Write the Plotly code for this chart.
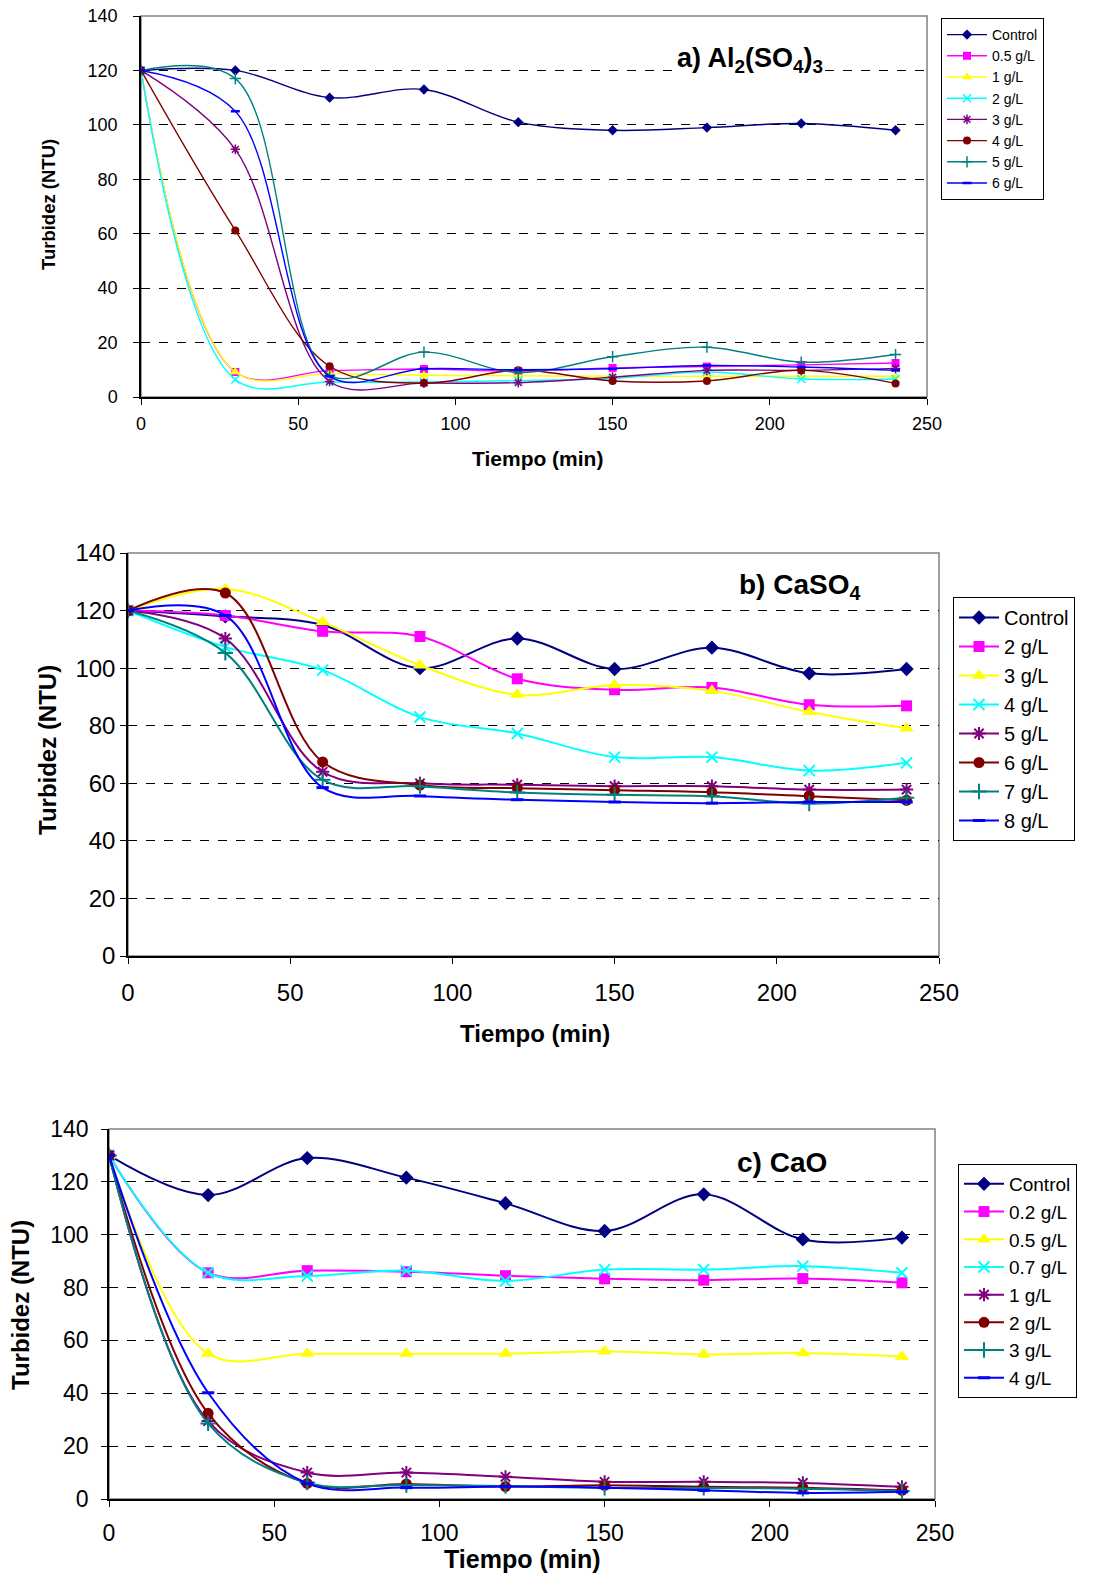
import plotly.graph_objects as go

# ---------------- data ----------------
time_min = [0, 30, 60, 90, 120, 150, 180, 210, 240]

a_names = ["Control", "0.5 g/L", "1 g/L", "2 g/L", "3 g/L", "4 g/L", "5 g/L", "6 g/L"]
a_control = [120, 120, 110, 113, 101, 98, 99, 100.5, 98]
a_05 = [120, 9.2, 9.7, 10.3, 9.5, 10.7, 11.2, 11.8, 12.5]
a_1 = [120, 9.2, 8.6, 8.0, 7.8, 7.6, 7.6, 7.6, 7.6]
a_2 = [120, 6.4, 5.5, 5.5, 6.0, 6.8, 9.2, 6.6, 6.6]
a_3 = [120, 91, 5.7, 5.1, 5.3, 7.3, 9.8, 9.8, 10.5]
a_4 = [120, 61.2, 11.3, 5.1, 9.8, 5.9, 5.9, 9.8, 5.0]
a_5 = [120, 117, 8.0, 16.5, 9.0, 14.8, 18.3, 12.8, 15.6]
a_6 = [120, 105, 7.6, 10.4, 10.0, 10.4, 11.6, 11.0, 9.8]

b_names = ["Control", "2 g/L", "3 g/L", "4 g/L", "5 g/L", "6 g/L", "7 g/L", "8 g/L"]
b_control = [120, 118, 115, 100, 110.3, 99.7, 107.1, 98.2, 99.7]
b_2 = [120, 118.3, 112.8, 111, 96.3, 92.5, 93.3, 87.3, 86.9]
b_3 = [120, 127.5, 116, 101, 90.8, 94.1, 92.1, 84.8, 79.1]
b_4 = [120, 107.4, 99.3, 83, 77.3, 69.1, 69.1, 64.4, 67.1]
b_5 = [120, 110.3, 64, 60, 59.5, 59, 59, 57.8, 57.8]
b_6 = [120, 126.1, 67.4, 59.4, 58.3, 57.6, 56.9, 55.5, 54.1]
b_7 = [120, 105.3, 61.2, 59, 56.8, 56, 55.5, 53, 55]
b_8 = [120, 118.3, 58.5, 55.6, 54.3, 53.5, 53.1, 53.5, 53.5]

c_names = ["Control", "0.2 g/L", "0.5 g/L", "0.7 g/L", "1 g/L", "2 g/L", "3 g/L", "4 g/L"]
c_control = [130, 115, 129, 121.6, 111.9, 101.4, 115.3, 98.2, 98.9]
c_02 = [130, 85.6, 86.4, 86, 84.5, 83.3, 82.8, 83.4, 81.8]
c_05 = [130, 55, 55, 55, 55, 55.9, 54.7, 55.2, 53.9]
c_07 = [130, 85.6, 84.4, 86.4, 82.5, 86.8, 86.8, 88.1, 85.6]
c_1 = [130, 29.5, 10, 10, 8.4, 6.5, 6.5, 6.1, 4.6]
c_2 = [130, 32.4, 5.9, 5.7, 4.7, 5.2, 4.6, 4.3, 3.3]
c_3 = [130, 28.6, 6.2, 5.3, 4.9, 4.2, 4.2, 3.9, 3.0]
c_4 = [130, 40.2, 5.9, 4.3, 4.7, 4.3, 3.3, 2.3, 2.7]

x_ticks = [0, 50, 100, 150, 200, 250]
y_ticks = [0, 20, 40, 60, 80, 100, 120, 140]

# ---------------- styles ----------------
colors = ["#000080", "#FF00FF", "#FFFF00", "#00FFFF", "#800080", "#800000", "#008080", "#0000FF"]
symbols = ["diamond", "square", "triangle-up", "x-thin-open", "asterisk-open",
           "circle", "cross-thin-open", "line-ew-open"]

W, H = 1106, 1579
FONT = "Liberation Sans, Arial, sans-serif"

# pixel boxes of plot areas: left, right, top, bottom
boxes = {
    "a": (141, 927, 16, 397),
    "b": (128, 939, 553, 956),
    "c": (109, 935, 1129, 1499),
}

fig = go.Figure()

panels = [
    ("a", a_names, [a_control, a_05, a_1, a_2, a_3, a_4, a_5, a_6], "", 8, 1.4, "legend"),
    ("b", b_names, [b_control, b_2, b_3, b_4, b_5, b_6, b_7, b_8], "2", 11, 2.0, "legend2"),
    ("c", c_names, [c_control, c_02, c_05, c_07, c_1, c_2, c_3, c_4], "3", 11, 2.0, "legend3"),
]

for key, names, series, ax, msize, lw, leg in panels:
    for i, (nm, vals) in enumerate(zip(names, series)):
        sym = symbols[i]
        open_sym = sym.endswith("-open")
        ms = msize
        mline = dict(width=0)
        if open_sym:
            mline = dict(width=2 if key != "a" else 1.5, color=colors[i])
        if sym == "line-ew-open":
            mline = dict(width=3 if key != "a" else 2.5, color=colors[i])
            ms = msize * 0.8
        if sym == "triangle-up":
            ms = msize * 1.15
        fig.add_trace(go.Scatter(
            x=time_min, y=vals, name=nm, mode="lines+markers",
            line=dict(color=colors[i], width=lw, shape="spline", smoothing=1.0),
            marker=dict(symbol=sym, size=ms, color=colors[i], line=mline),
            xaxis="x" + ax, yaxis="y" + ax, legend=leg,
        ))

tick_font = {"a": 18, "b": 24, "c": 23}
standoff_y = {"a": 12, "b": 0, "c": 8}
standoff_x = {"a": 4, "b": 8, "c": 7}
for key, names, series, ax, msize, lw, leg in panels:
    l, r, t, b = boxes[key]
    xd = [l / W, r / W]
    yd = [1 - b / H, 1 - t / H]
    common = dict(showline=True, linecolor="black", linewidth=1.5, ticks="outside",
                  ticklen=6, tickcolor="black", tickwidth=1, zeroline=False, automargin=False,
                  tickfont=dict(family=FONT, size=tick_font[key], color="black"))
    fig.update_layout(**{
        "xaxis" + ax: dict(domain=xd, range=[0, 250], tickvals=x_ticks, showgrid=False,
                           anchor="y" + ax, ticklabelstandoff=standoff_x[key], **common),
        "yaxis" + ax: dict(domain=yd, range=[0, 140], tickvals=y_ticks, showgrid=True,
                           gridcolor="black", griddash="dash", gridwidth=1,
                           anchor="x" + ax, ticklabelstandoff=standoff_y[key], **common),
    })
    # grey plot-area border (top and right)
    fig.add_shape(type="rect", xref="paper", yref="paper", x0=xd[0], x1=xd[1], y0=yd[0], y1=yd[1],
                  line=dict(color="#808080", width=1.5), layer="below")

# legends
def leg(xpx, ypx, size):
    return dict(x=xpx / W, y=1 - ypx / H, xanchor="left", yanchor="top",
                bgcolor="white", bordercolor="black", borderwidth=1,
                font=dict(family=FONT, size=size, color="black"),
                itemwidth=40, tracegroupgap=0, itemclick=False)

fig.update_layout(
    legend=leg(941, 18, 14),
    legend2=leg(953, 597, 20),
    legend3=leg(958, 1164, 19),
)

# titles and axis titles
ann = [
    dict(x=750, y=60, text="<b>a) Al<sub>2</sub>(SO<sub>4</sub>)<sub>3</sub></b>", size=27, bg="white"),
    dict(x=799, y=586, text="<b>b) CaSO<sub>4</sub></b>", size=28, bg="rgba(0,0,0,0)"),
    dict(x=782, y=1162, text="<b>c) CaO</b>", size=28, bg="white"),
    dict(x=537, y=458, text="<b>Tiempo (min)</b>", size=21, bg="rgba(0,0,0,0)"),
    dict(x=535, y=1033, text="<b>Tiempo (min)</b>", size=24, bg="rgba(0,0,0,0)"),
    dict(x=522, y=1559, text="<b>Tiempo (min)</b>", size=25, bg="rgba(0,0,0,0)"),
]
for a in ann:
    fig.add_annotation(x=a["x"] / W, y=1 - a["y"] / H, xref="paper", yref="paper",
                       text=a["text"], showarrow=False, xanchor="center", yanchor="middle",
                       bgcolor=a["bg"], font=dict(family=FONT, size=a["size"], color="black"))

yt = [(48, 205, 18.5), (47, 750, 24), (20, 1305, 24)]
for xp, yp, sz in yt:
    fig.add_annotation(x=xp / W, y=1 - yp / H, xref="paper", yref="paper",
                       text="<b>Turbidez (NTU)</b>", textangle=-90, showarrow=False,
                       xanchor="center", yanchor="middle",
                       font=dict(family=FONT, size=sz, color="black"))

fig.update_layout(width=W, height=H, margin=dict(l=0, r=0, t=0, b=0),
                  paper_bgcolor="white", plot_bgcolor="white", showlegend=True)

fig.write_html("out.html", config={"displayModeBar": False},
               post_script="document.body.style.margin='0px';document.body.style.overflow='hidden';")
